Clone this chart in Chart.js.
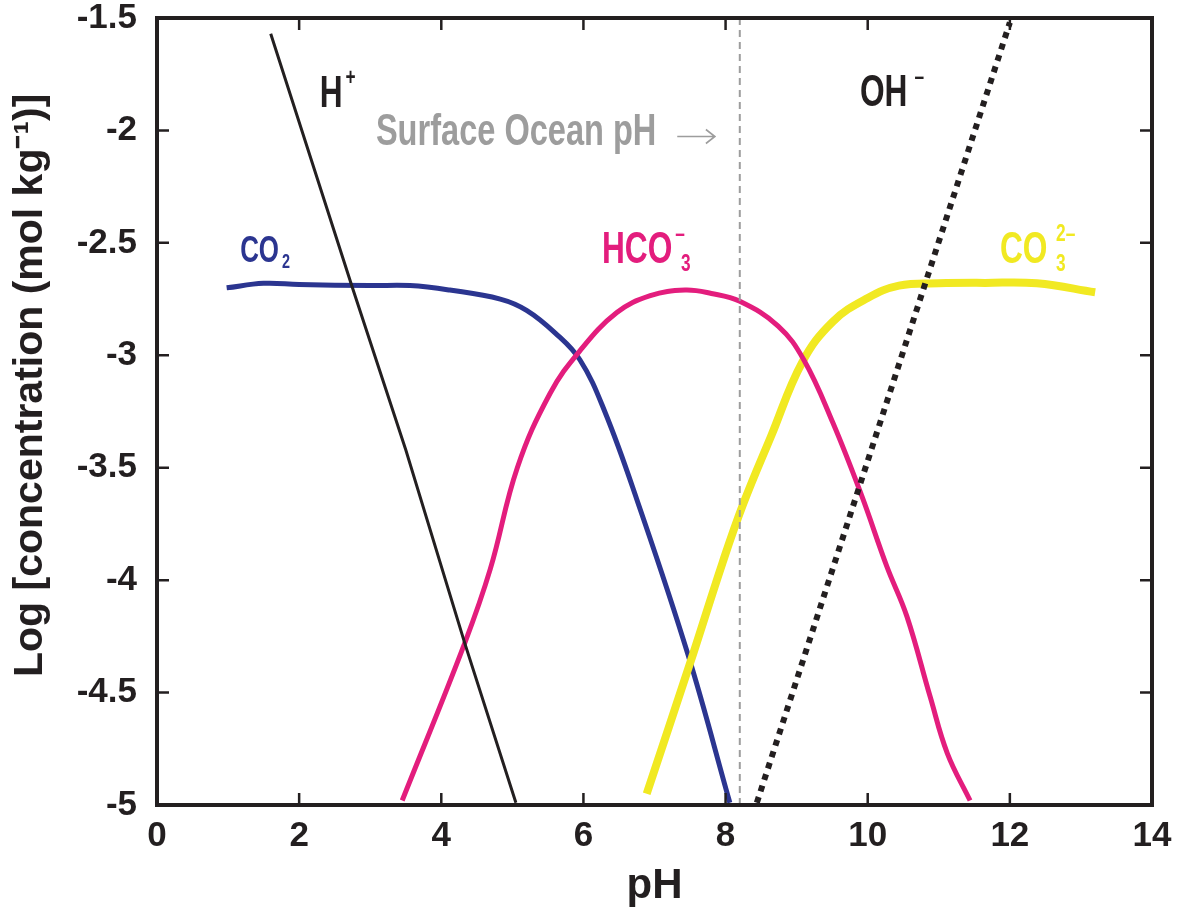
<!DOCTYPE html>
<html>
<head>
<meta charset="utf-8">
<script src="https://cdn.jsdelivr.net/npm/chart.js@4.4.1/dist/chart.umd.min.js"></script>
<style>
  html, body { margin: 0; padding: 0; background: #fff; }
</style>
</head>
<body>
<canvas id="phChart" width="1183" height="920"></canvas>
<script>
// values (x = pH, y = log concentration)
const phH = [1.6, 2.75, 3.5, 4.33, 5.05];
const logH = [-1.57, -2.70, -3.42, -4.28, -4.99];

const phOH = [8.44, 12.0];
const logOH = [-4.99, -1.52];

const phCO2 = [0.98, 1.5, 2.0, 3.0, 3.56, 4.12, 4.83, 5.2, 5.6, 5.95, 6.3, 6.75, 7.47, 8.06];
const logCO2 = [-2.70, -2.68, -2.685, -2.69, -2.69, -2.71, -2.75, -2.80, -2.90, -3.02, -3.25, -3.64, -4.33, -4.99];

const phHCO3 = [3.45, 4.33, 4.69, 5.07, 5.53, 5.95, 6.47, 6.94, 7.43, 7.8, 8.2, 8.74, 9.10, 9.51, 9.91, 10.27, 10.55, 10.88, 11.12, 11.44];
const logHCO3 = [-4.98, -4.28, -3.95, -3.50, -3.17, -2.98, -2.81, -2.735, -2.71, -2.725, -2.76, -2.87, -3.02, -3.30, -3.62, -3.94, -4.16, -4.52, -4.77, -4.98];

const phCO3 = [6.89, 7.5, 7.96, 8.25, 8.64, 9.08, 9.51, 10.0, 10.44, 11.0, 11.65, 12.38, 13.2];
const logCO3 = [-4.95, -4.37, -3.92, -3.66, -3.36, -3.03, -2.85, -2.745, -2.69, -2.68, -2.678, -2.68, -2.72];

const surfacePH = 8.2;

const xTicks = [0, 2, 4, 6, 8, 10, 12, 14];
const yTicks = [-5, -4.5, -4, -3.5, -3, -2.5, -2, -1.5];

const INK = "#231f20";
const BLUE = "#2b3590";
const PINK = "#e31d7d";
const YELLOW = "#f1e922";
const GREY = "#9d9d9d";
const FONT = "'Liberation Sans', Arial, sans-serif";

function pts(xs, ys) {
  return xs.map((x, i) => ({ x: x, y: ys[i] }));
}

// species labels, anchored in data coordinates
const speciesLabels = [
  { x: 2.29, y: -1.896, main: "H", sup: "+", color: INK, size: 44 },
  { x: 9.89, y: -1.891, main: "OH", sup: "\u2013", color: INK, size: 44, supGap: 10 },
  { x: 1.17, y: -2.585, main: "CO", sub: "2", color: BLUE, size: 36 },
  { x: 6.26, y: -2.59, main: "HCO", sup: "\u2013", sub: "3", color: PINK, size: 44, subShift: 8 },
  { x: 11.86, y: -2.59, main: "CO", sup: "2\u2013", sub: "3", color: YELLOW, size: 44, supGap: 12, subGap: 12 }
];

const annotations = {
  id: "annotations",
  afterDatasetsDraw(chart) {
    const ctx = chart.ctx;
    const xs = chart.scales.x, ys = chart.scales.y;
    const a = chart.chartArea;

    // inward tick marks on all four sides
    ctx.save();
    ctx.strokeStyle = INK;
    ctx.lineWidth = 2.5;
    ctx.beginPath();
    xTicks.slice(1, -1).forEach(v => {
      const px = xs.getPixelForValue(v);
      ctx.moveTo(px, a.bottom); ctx.lineTo(px, a.bottom - 12);
      ctx.moveTo(px, a.top); ctx.lineTo(px, a.top + 12);
    });
    yTicks.slice(1, -1).forEach(v => {
      const py = ys.getPixelForValue(v);
      ctx.moveTo(a.left, py); ctx.lineTo(a.left + 12, py);
      ctx.moveTo(a.right, py); ctx.lineTo(a.right - 12, py);
    });
    ctx.stroke();

    // frame
    ctx.lineWidth = 4;
    ctx.strokeRect(a.left, a.top, a.right - a.left, a.bottom - a.top);
    ctx.restore();

    // y axis title (sits a bit above the plot centre in the original)
    ctx.save();
    ctx.fillStyle = INK;
    ctx.font = "bold 41px " + FONT;
    ctx.textAlign = "center";
    ctx.textBaseline = "middle";
    ctx.translate(31, ys.getPixelForValue(-3.0) + 30);
    ctx.rotate(-Math.PI / 2);
    ctx.fillText("Log [concentration (mol kg\u207B\u00B9)]", 0, 0);
    ctx.restore();

    // surface ocean text + arrow
    ctx.save();
    ctx.fillStyle = GREY;
    ctx.textBaseline = "alphabetic";
    ctx.translate(xs.getPixelForValue(3.08), ys.getPixelForValue(-2.065));
    ctx.scale(0.74, 1);
    ctx.font = "bold 44px " + FONT;
    ctx.fillText("Surface Ocean pH", 0, 0);
    ctx.restore();

    const ax0 = xs.getPixelForValue(7.32), ax1 = xs.getPixelForValue(7.85);
    const ay = ys.getPixelForValue(-2.027);
    ctx.save();
    ctx.strokeStyle = GREY;
    ctx.lineWidth = 1.6;
    ctx.beginPath();
    ctx.moveTo(ax0, ay); ctx.lineTo(ax1, ay);
    ctx.moveTo(ax1 - 9, ay - 7); ctx.lineTo(ax1, ay); ctx.lineTo(ax1 - 9, ay + 7);
    ctx.stroke();
    ctx.restore();

    // species labels with super/subscripts
    speciesLabels.forEach(l => {
      ctx.save();
      ctx.fillStyle = l.color;
      ctx.textBaseline = "alphabetic";
      ctx.translate(xs.getPixelForValue(l.x), ys.getPixelForValue(l.y));
      ctx.scale(0.72, 1);
      ctx.font = "bold " + l.size + "px " + FONT;
      ctx.fillText(l.main, 0, 0);
      const w = ctx.measureText(l.main).width;
      const small = Math.round(l.size * 0.55);
      ctx.font = "bold " + small + "px " + FONT;
      if (l.sup) ctx.fillText(l.sup, w + (l.supGap || 4), -l.size * 0.5);
      if (l.sub) ctx.fillText(l.sub, w + (l.subGap || 4) + (l.subShift || 0), l.size * 0.17);
      ctx.restore();
    });
  }
};

const ctx = document.getElementById("phChart").getContext("2d");

const curve = { fill: false, pointRadius: 0, tension: 0.4, borderCapStyle: "butt" };

new Chart(ctx, {
  type: "line",
  data: {
    datasets: [
      { label: "Surface Ocean pH", data: pts([surfacePH, surfacePH], [-5, -1.5]), borderColor: GREY, borderWidth: 2, borderDash: [7, 5], pointRadius: 0, tension: 0, order: 0 },
      { label: "H+", data: pts(phH, logH), borderColor: INK, borderWidth: 3, pointRadius: 0, tension: 0, order: 1 },
      { label: "OH-", data: pts(phOH, logOH), borderColor: INK, borderWidth: 6, borderDash: [6, 6], pointRadius: 0, tension: 0, order: 2 },
      Object.assign({ label: "HCO3-", data: pts(phHCO3, logHCO3), borderColor: PINK, borderWidth: 5, order: 3 }, curve),
      Object.assign({ label: "CO3 2-", data: pts(phCO3, logCO3), borderColor: YELLOW, borderWidth: 8, order: 4 }, curve),
      Object.assign({ label: "CO2", data: pts(phCO2, logCO2), borderColor: BLUE, borderWidth: 5, order: 5 }, curve)
    ]
  },
  options: {
    responsive: false,
    animation: false,
    layout: { padding: { top: 18, right: 31, left: 0, bottom: 0 } },
    plugins: { legend: { display: false }, tooltip: { enabled: false } },
    scales: {
      x: {
        type: "linear",
        min: 0, max: 14,
        afterFit: s => { s.height = 115; s.paddingLeft = 0; s.paddingRight = 0; },
        grid: { display: false, drawTicks: false },
        border: { display: false },
        ticks: { stepSize: 2, autoSkip: false, padding: 10, color: INK, font: { family: FONT, size: 35, weight: "bold" } },
        title: { display: true, text: "pH", color: INK, padding: { top: 0, bottom: 8 }, font: { family: FONT, size: 42, weight: "bold" } }
      },
      y: {
        type: "linear",
        min: -5, max: -1.5,
        afterFit: s => { s.width = 157; s.paddingTop = 0; s.paddingBottom = 0; },
        grid: { display: false, drawTicks: false },
        border: { display: false },
        ticks: { stepSize: 0.5, autoSkip: false, padding: 20, color: INK, font: { family: FONT, size: 35, weight: "bold" }, callback: v => String(v) },
        title: { display: false }
      }
    }
  },
  plugins: [annotations]
});
</script>
</body>
</html>
